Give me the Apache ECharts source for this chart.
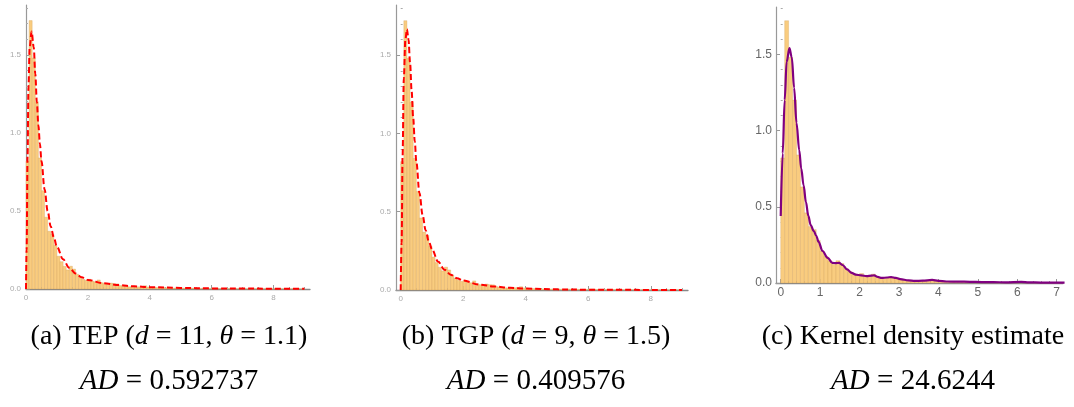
<!DOCTYPE html>
<html><head><meta charset="utf-8">
<script src="https://cdn.jsdelivr.net/npm/echarts@6/dist/echarts.min.js"></script>
<style>html,body{margin:0;padding:0;background:#fff}#c{width:1074px;height:407px}</style>
</head><body><div id="c"></div>
<script>
// ---------- DATA ----------
const binLeft = [0,0.1,0.2,0.3,0.4,0.5,0.6,0.7,0.8,0.9,1,1.1,1.2,1.3,1.4,1.5,1.6,1.7,1.8,1.9,2,2.1,2.2,2.3,2.4,2.5,2.6,2.7,2.8,2.9,3,3.1,3.2,3.3,3.4,3.5,3.6,3.7,3.8,3.9,4,4.1,4.2,4.3,4.4,4.5,4.6,4.7,4.8,4.9,5,5.1,5.2,5.3,5.4,5.5,5.6,5.7,5.8,5.9,6,6.1,6.2,6.3,6.4,6.5,6.6,6.7,6.8,6.9,7,7.1,7.2,7.3,7.4,7.5,7.6,7.7,7.8,7.9,8,8.1,8.2,8.3,8.4,8.5,8.6,8.7,8.8,8.9];
const binWidth = 0.1;
const histDensity = [0.82,1.72,1.48,1.20,0.84,0.63,0.46,0.37,0.35,0.28,
 0.21,0.175,0.145,0.122,0.146,0.128,0.095,0.075,0.062,0.055,
 0.062,0.05,0.046,0.058,0.04,0.034,0.03,0.038,0.034,0.033,
 0.022,0.019,0.017,0.014,0.013,0.012,0.014,0.016,0.021,0.013,
 0.011,0.010,0.009,0.008,0.009,0.007,0.008,0.006,0.006,0.005,
 0.006,0.005,0.004,0.005,0.006,0.004,0.004,0.003,0.004,0.003,
 0.005,0.006,0.003,0.003,0.002,0.003,0.002,0.003,0.002,0.002,
 0.002,0.001,0.002,0.001,0.002,0.001,0.001,0.002,0.001,0.001,
 0.001,0.002,0.001,0.001,0.001,0.001,0.002,0.001,0.001,0.001];

const tepX = [0,0.02,0.05,0.08,0.12,0.18,0.25,0.3,0.35,0.4,0.45,0.5,0.6,0.7,0.8,0.9,1.0,1.2,1.4,1.6,1.8,2.0,2.5,3.0,3.5,4,5,6,7,8,9];
const tepY = [0,0.25,0.85,1.3,1.55,1.65,1.55,1.38,1.2,1.05,0.93,0.82,0.64,0.5,0.4,0.33,0.27,0.19,0.135,0.1,0.075,0.058,0.037,0.025,0.017,0.012,0.007,0.004,0.003,0.002,0.0015];

const tgpX = [0,0.03,0.06,0.1,0.15,0.2,0.25,0.3,0.35,0.4,0.45,0.5,0.6,0.7,0.8,0.9,1.0,1.2,1.4,1.6,1.8,2.0,2.5,3,3.5,4,5,6,7,8,9];
const tgpY = [0,0.3,0.85,1.35,1.6,1.665,1.6,1.45,1.27,1.1,0.95,0.82,0.62,0.48,0.38,0.31,0.26,0.18,0.13,0.097,0.075,0.06,0.035,0.022,0.014,0.009,0.004,0.002,0.001,0.0006,0.0003];

const kdeX = [0,0.05,0.1,0.15,0.22,0.28,0.34,0.4,0.47,0.52,0.58,0.64,0.7,0.76,0.84,0.9,0.96,1.06,1.19,1.31,1.4,1.48,1.57,1.68,1.8,1.9,2.04,2.18,2.3,2.37,2.46,2.56,2.7,2.8,2.92,3.03,3.24,3.4,3.6,3.84,4.0,4.2,4.5,4.8,5.1,5.4,5.7,6.1,6.3,6.6,7.0,7.2];
const kdeY = [0.44,0.85,1.2,1.45,1.54,1.48,1.28,1.05,0.87,0.75,0.64,0.53,0.44,0.38,0.34,0.31,0.27,0.21,0.165,0.132,0.13,0.132,0.118,0.09,0.066,0.055,0.05,0.045,0.048,0.05,0.04,0.033,0.036,0.039,0.033,0.026,0.017,0.014,0.015,0.02,0.014,0.01,0.009,0.008,0.006,0.006,0.004,0.007,0.004,0.003,0.002,0.002];

const yMajor = [0,0.5,1.0,1.5];
const yMinor = [0.1,0.2,0.3,0.4,0.6,0.7,0.8,0.9,1.1,1.2,1.3,1.4,1.6,1.7,1.8];
const xMajorAB = [0,2,4,6,8];
const xMinorAB = [0.5,1,1.5,2.5,3,3.5,4.5,5,5.5,6.5,7,7.5,8.5,9];
const xMajorC = [0,1,2,3,4,5,6,7];
const xMinorC = [0.2,0.4,0.6,0.8,1.2,1.4,1.6,1.8,2.2,2.4,2.6,2.8,3.2,3.4,3.6,3.8,4.2,4.4,4.6,4.8,5.2,5.4,5.6,5.8,6.2,6.4,6.6,6.8];

const captions = [
  ['(a) TEP ({i|d} = 11, {i|θ} = 1.1)', '{i|AD} = 0.592737'],
  ['(b) TGP ({i|d} = 9, {i|θ} = 1.5)', '{i|AD} = 0.409576'],
  ['(c) Kernel density estimate', '{i|AD} = 24.6244']
];

// ---------- CHART ----------
const histData = binLeft.map((b, i) => [b, b + binWidth, histDensity[i]]);
const pairs = (xs, ys) => xs.map((x, i) => [x, ys[i]]);

const panels = [
  {grid:{left:26, top:5, width:284, height:284}, xmin:0, xmax:9.18, ymax:1.82, xMaj:xMajorAB, xMin:xMinorAB, small:true},
  {grid:{left:396, top:5, width:292, height:285}, xmin:-0.15, xmax:9.19, ymax:1.82, xMaj:xMajorAB, xMin:xMinorAB, small:true},
  {grid:{left:776, top:7, width:287, height:276}, xmin:-0.12, xmax:7.16, ymax:1.81, xMaj:xMajorC, xMin:xMinorC, small:false}
];

function renderBar(params, api) {
  const x0 = api.value(0), x1 = api.value(1), v = api.value(2);
  const p0 = api.coord([x0, v]);
  const p1 = api.coord([x1, 0]);
  const cs = params.coordSys;
  const r = echarts.graphic.clipRectByRect(
    {x: p0[0], y: p0[1], width: p1[0] - p0[0], height: p1[1] - p0[1]},
    {x: cs.x, y: cs.y, width: cs.width, height: cs.height});
  return r && {type:'rect', shape:r, style:{fill:'#F9CC7F', stroke:'rgba(205,155,85,0.6)', lineWidth:0.5}};
}

const grid = [], xAxis = [], yAxis = [], series = [];
panels.forEach((p, k) => {
  grid.push(p.grid);
  const lblX = p.small ? {fontSize:8, color:'#aaa', margin:5} : {fontSize:12, color:'#666', margin:4};
  const lblY = p.small ? {fontSize:8, color:'#aaa', margin:5} : {fontSize:12, color:'#666', margin:4};
  xAxis.push({type:'value', gridIndex:k, min:p.xmin, max:p.xmax, position:'bottom',
    axisLine:{show:true, onZero:false, lineStyle:{color:'#888', width:1.3}},
    axisTick:{show:true, inside:true, length:4, lineStyle:{color:'#999'}, customValues:p.xMaj},
    axisLabel:Object.assign({show:true, fontFamily:'Liberation Sans', customValues:p.xMaj, formatter:v=>String(v)}, lblX),
    splitLine:{show:false}});
  xAxis.push({type:'value', gridIndex:k, min:p.xmin, max:p.xmax, position:'bottom',
    axisLine:{show:false}, axisLabel:{show:false}, splitLine:{show:false},
    axisTick:{show:true, inside:true, length:2, lineStyle:{color:'#aaa'}, customValues:p.xMin}});
  yAxis.push({type:'value', gridIndex:k, min:0, max:p.ymax, position:'left',
    axisLine:{show:true, onZero:false, lineStyle:{color:'#999', width:1.2}},
    axisTick:{show:true, inside:true, length:4, lineStyle:{color:'#999'}, customValues:yMajor},
    axisLabel:Object.assign({show:true, fontFamily:'Liberation Sans', customValues:yMajor, formatter:v=>v.toFixed(1)}, lblY),
    splitLine:{show:false}});
  yAxis.push({type:'value', gridIndex:k, min:0, max:p.ymax, position:'left',
    axisLine:{show:false}, axisLabel:{show:false}, splitLine:{show:false},
    axisTick:{show:true, inside:true, length:2, lineStyle:{color:'#aaa'}, customValues:yMinor}});
  series.push({type:'custom', xAxisIndex:2*k, yAxisIndex:2*k, renderItem:renderBar, data:histData, silent:true, z:1});
});
series.push({type:'line', xAxisIndex:0, yAxisIndex:0, data:pairs(tepX, tepY), showSymbol:false, smooth:0.35, smoothMonotone:'x',
  lineStyle:{color:'#ff0000', width:2, type:[6,3]}, z:3, silent:true});
series.push({type:'line', xAxisIndex:2, yAxisIndex:2, data:pairs(tgpX, tgpY), showSymbol:false, smooth:0.35, smoothMonotone:'x',
  lineStyle:{color:'#ff0000', width:2, type:[6,3]}, z:3, silent:true});
series.push({type:'line', xAxisIndex:4, yAxisIndex:4, data:pairs(kdeX, kdeY), showSymbol:false, smooth:0.35, smoothMonotone:'x',
  lineStyle:{color:'#800080', width:2.2}, z:3, silent:true});

const capCenters = [169, 536, 913];
const graphic = [];
captions.forEach((c, k) => {
  c.forEach((t, j) => {
    graphic.push({type:'text', x:capCenters[k], y: j === 0 ? 337 : 381,
      style:{text:t, fontFamily:'Liberation Serif', fontSize:j === 0 ? 28 : 29, fill:'#000', align:'center', verticalAlign:'middle',
        rich:{i:{fontStyle:'italic', fontFamily:'Liberation Serif', fontSize:j === 0 ? 28 : 29, fill:'#000'}}}});
  });
});

const chart = echarts.init(document.getElementById('c'), null, {renderer:'canvas'});
chart.setOption({animation:false, backgroundColor:'#fff', grid, xAxis, yAxis, series, graphic});
</script>
</body></html>
